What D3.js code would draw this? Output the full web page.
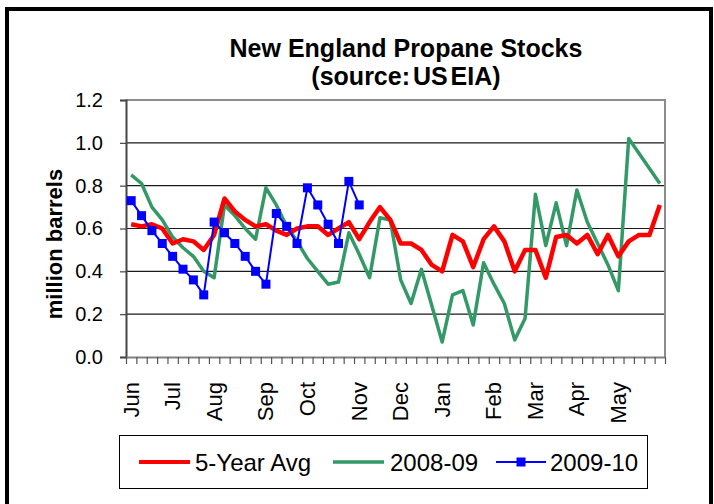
<!DOCTYPE html>
<html><head><meta charset="utf-8">
<script src="https://cdn.jsdelivr.net/npm/d3@7"></script>
<style>body{margin:0;background:#fff;} text{font-family:"Liberation Sans",Arial,sans-serif;fill:#000;}</style>
</head><body><svg id="c" width="714" height="504"></svg>
<script>
// ---- data ----
const categories = ["Jun","","","","Jul","","","","Aug","","","","","Sep","","","","Oct","","","","","Nov","","","","Dec","","","","Jan","","","","","Feb","","","","Mar","","","","Apr","","","","May","","","",""];
const avg5yr = [0.62,0.61,0.62,0.60,0.53,0.55,0.54,0.50,0.57,0.74,0.68,0.64,0.61,0.62,0.59,0.57,0.60,0.61,0.61,0.57,0.60,0.63,0.55,0.63,0.70,0.64,0.53,0.53,0.50,0.43,0.40,0.57,0.54,0.42,0.55,0.61,0.54,0.40,0.50,0.50,0.37,0.56,0.57,0.53,0.57,0.48,0.57,0.47,0.54,0.57,0.57,0.71];
const s2008 = [0.85,0.81,0.70,0.64,0.56,0.51,0.47,0.40,0.37,0.71,0.66,0.60,0.55,0.79,0.71,0.61,0.54,0.46,0.40,0.34,0.35,0.58,0.48,0.37,0.65,0.64,0.36,0.25,0.41,0.24,0.07,0.29,0.31,0.15,0.44,0.34,0.25,0.08,0.18,0.76,0.52,0.72,0.52,0.78,0.63,0.53,0.43,0.31,1.02,0.95,0.88,0.81];
const s2009 = [0.73,0.66,0.59,0.53,0.47,0.41,0.36,0.29,0.63,0.58,0.53,0.47,0.40,0.34,0.67,0.61,0.53,0.79,0.71,0.62,0.53,0.82,0.71];
const yTicks = [0,0.2,0.4,0.6,0.8,1.0,1.2];
const seriesNames = ["5-Year Avg","2008-09","2009-10"];
const titleLines = ["New England Propane Stocks","(source: US EIA)"];

// ---- chart ----
const svg = d3.select("#c");
const L=126, R=665, T=100, B=357;
const idx = d3.range(categories.length);
const x = d3.scaleBand().domain(idx).range([L,R]);
const xb = d3.scaleLinear().domain([0,categories.length]).range([L,R]);
const y = d3.scaleLinear().domain([0,1.2]).range([B,T]);
const cx = i => x(i)+x.bandwidth()/2;

// outer frame
svg.append("rect").attr("x",7).attr("y",9).attr("width",704).attr("height",520)
  .attr("fill","none").attr("stroke","#000").attr("stroke-width",4);

// title
svg.selectAll("text.title").data(titleLines).join("text").attr("class","title")
  .attr("x",406).attr("y",(d,i)=>57+i*28).attr("text-anchor","middle")
  .attr("font-weight","bold").attr("font-size",25).style("word-spacing",(d,i)=>i?"-4px":"0px").text(d=>d);

// gridlines
svg.append("g").selectAll("line").data(yTicks.filter(v=>v>0 && v<1.2)).join("line")
  .attr("x1",L).attr("x2",R).attr("y1",d=>y(d)).attr("y2",d=>y(d))
  .attr("stroke","#1a1a1a").attr("stroke-width",1.2);
// plot border top/right
svg.append("path").attr("d",`M${L},${T}H${R}V${B}`).attr("fill","none").attr("stroke","#8c8c8c").attr("stroke-width",2);

// y axis
const ya = svg.append("g").attr("transform",`translate(${L},0)`)
  .call(d3.axisLeft(y).tickValues(yTicks).tickFormat(d3.format(".1f")).tickSize(6).tickPadding(17));
ya.select(".domain").attr("stroke","#444").attr("stroke-width",2);
ya.selectAll(".tick line").attr("stroke","#444").attr("stroke-width",1.2);
ya.selectAll("text").attr("font-size",20).attr("font-family","Liberation Sans, Arial, sans-serif");

// x axis (ticks between categories)
const xa = svg.append("g").attr("transform",`translate(0,${B})`)
  .call(d3.axisBottom(xb).tickValues(d3.range(categories.length+1)).tickFormat("").tickSize(7).tickSizeOuter(0));
xa.select(".domain").attr("stroke","#808080").attr("stroke-width",2);
xa.selectAll(".tick line").attr("stroke","#555").attr("stroke-width",1.2);

// month labels
svg.append("g").selectAll("text").data(idx.filter(i=>categories[i]!=="")).join("text")
  .attr("transform",i=>`translate(${cx(i)+7.5},382) rotate(-90)`)
  .attr("text-anchor","end").attr("font-size",22).text(i=>categories[i]);

// y axis title
svg.append("text").attr("transform","translate(62,244) rotate(-90)").attr("text-anchor","middle")
  .attr("font-weight","bold").attr("font-size",22).text("million barrels");

// lines
const line = d3.line().x((d,i)=>cx(i)).y(d=>y(d));
svg.append("path").datum(s2008).attr("d",line).attr("fill","none").attr("stroke","#339966").attr("stroke-width",3.5).attr("stroke-linejoin","round");
svg.append("path").datum(avg5yr).attr("d",line).attr("fill","none").attr("stroke","#ff0000").attr("stroke-width",4.5).attr("stroke-linejoin","round");
svg.append("path").datum(s2009).attr("d",line).attr("fill","none").attr("stroke","#0000ff").attr("stroke-width",2);
svg.append("g").selectAll("rect").data(s2009).join("rect")
  .attr("x",(d,i)=>cx(i)-4.5).attr("y",d=>y(d)-4.5).attr("width",9).attr("height",9).attr("fill","#0000ff");

// legend
svg.append("rect").attr("x",119.5).attr("y",435.5).attr("width",528).attr("height",53)
  .attr("fill","#fff").attr("stroke","#000").attr("stroke-width",1);
const leg = [
  {name:seriesNames[0], color:"#ff0000", w:4, x0:139, x1:190, tx:195, mark:false},
  {name:seriesNames[1], color:"#339966", w:3.5, x0:333, x1:384, tx:390, mark:false},
  {name:seriesNames[2], color:"#0000ff", w:2, x0:496, x1:546, tx:550, mark:true}
];
const lg = svg.append("g").selectAll("g").data(leg).join("g");
lg.append("line").attr("x1",d=>d.x0).attr("x2",d=>d.x1).attr("y1",462).attr("y2",462)
  .attr("stroke",d=>d.color).attr("stroke-width",d=>d.w);
lg.filter(d=>d.mark).append("rect").attr("x",d=>(d.x0+d.x1)/2-4.5).attr("y",457.5).attr("width",9).attr("height",9).attr("fill",d=>d.color);
lg.append("text").attr("x",d=>d.tx).attr("y",471).attr("font-size",24).text(d=>d.name);
</script></body></html>
